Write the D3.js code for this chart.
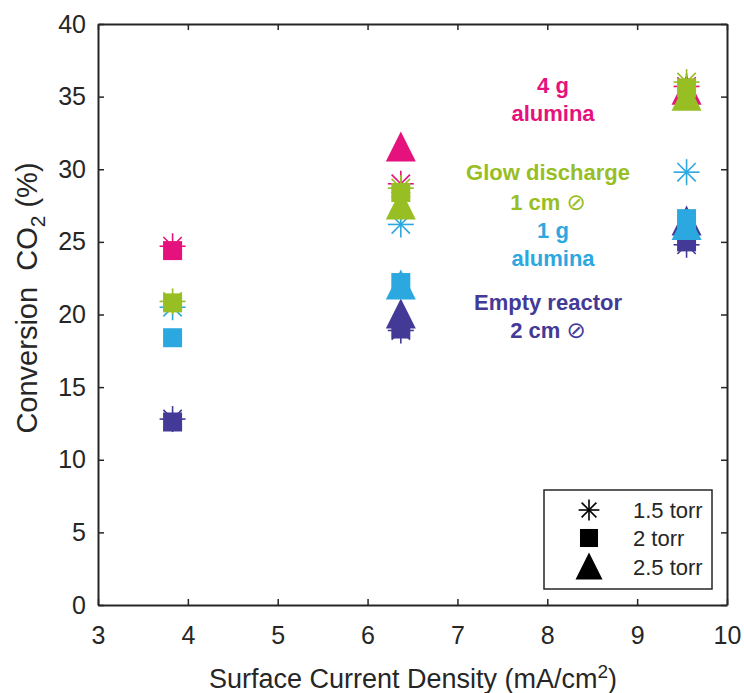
<!DOCTYPE html>
<html><head><meta charset="utf-8">
<script src="https://cdn.jsdelivr.net/npm/d3@7"></script>
<style>body{margin:0;background:#fff} text{font-family:"Liberation Sans",Arial,sans-serif}</style>
</head><body><svg id="c" width="744" height="693"></svg>
<script>
// ---- data ----
const xTicks = [3, 4, 5, 6, 7, 8, 9, 10];
const yTicks = [0, 5, 10, 15, 20, 25, 30, 35, 40];
const currentDensity = [3.83, 6.37, 9.55];
const pressures = ["1.5 torr", "2 torr", "2.5 torr"];
const markerTypes = ["star", "square", "triangle"];
const emptyStar     = [12.8, 18.9, 24.8];
const emptySquare   = [12.6, 19.0, 25.0];
const emptyTriangle = [null, 20.0, 26.4];
const oneGStar      = [20.5, 26.2, 29.8];
const oneGSquare    = [18.4, 22.2, 26.6];
const oneGTriangle  = [null, 22.0, 26.1];
const fourGStar     = [24.7, 29.0, 35.7];
const fourGSquare   = [24.4, null, null];
const fourGTriangle = [null, 31.5, 35.4];
const glowStar      = [20.9, 28.7, 36.0];
const glowSquare    = [20.8, 28.4, 35.6];
const glowTriangle  = [null, 27.5, 35.0];
const annotationLines = [
  ["4 g", "alumina"],
  ["Glow discharge", "1 cm"],
  ["1 g", "alumina"],
  ["Empty reactor", "2 cm"]
];

// ---- styles ----
const colors = {"Empty reactor":"#433A97","1 g alumina":"#2CA8E0","4 g alumina":"#E5127D","Glow discharge":"#97BE23"};
const axisColor = "#262626";
const groups = [
  {name:"Empty reactor", series:[emptyStar, emptySquare, emptyTriangle]},
  {name:"1 g alumina", series:[oneGStar, oneGSquare, oneGTriangle]},
  {name:"4 g alumina", series:[fourGStar, fourGSquare, fourGTriangle]},
  {name:"Glow discharge", series:[glowStar, glowSquare, glowTriangle]}
];

const svg = d3.select("#c");
const L = 98, R = 727, T = 24, B = 605;
const x = d3.scaleLinear().domain([3, 10]).range([L, R]);
const y = d3.scaleLinear().domain([0, 40]).range([B, T]);

// axes
const fs = 25;
const gx = svg.append("g").attr("transform", `translate(0,${B})`)
  .call(d3.axisBottom(x).tickValues(xTicks).tickFormat(d3.format("d")).tickSizeInner(-6).tickSizeOuter(0).tickPadding(26));
const gy = svg.append("g").attr("transform", `translate(${L},0)`)
  .call(d3.axisLeft(y).tickValues(yTicks).tickFormat(d3.format("d")).tickSizeInner(-6).tickSizeOuter(0).tickPadding(12));
const gt = svg.append("g").attr("transform", `translate(0,${T})`)
  .call(d3.axisTop(x).tickValues(xTicks).tickFormat("").tickSizeInner(-6).tickSizeOuter(0));
const gr = svg.append("g").attr("transform", `translate(${R},0)`)
  .call(d3.axisRight(y).tickValues(yTicks).tickFormat("").tickSizeInner(-6).tickSizeOuter(0));
[gx, gy, gt, gr].forEach(g => {
  g.select(".domain").attr("stroke", axisColor).attr("stroke-width", 2);
  g.selectAll(".tick line").attr("stroke", axisColor).attr("stroke-width", 1.5);
  g.selectAll(".tick text").attr("fill", axisColor).style("font-size", fs + "px");
});
gx.selectAll(".tick text").attr("dy", "0.5em");

// markers
function drawMarker(g, type, cx, cy, color, s) {
  if (type === "star") {
    const r = 13 * s;
    for (let k = 0; k < 4; k++) {
      const a = k * Math.PI / 4;
      g.append("line").attr("x1", cx - r * Math.cos(a)).attr("y1", cy - r * Math.sin(a))
        .attr("x2", cx + r * Math.cos(a)).attr("y2", cy + r * Math.sin(a))
        .attr("stroke", color).attr("stroke-width", 1.6);
    }
  } else if (type === "square") {
    const h = 9.5 * s;
    g.append("rect").attr("x", cx - h).attr("y", cy - h).attr("width", 2 * h).attr("height", 2 * h).attr("fill", color);
  } else {
    const w = 15 * s, top = 16 * s, bot = 14 * s;
    g.append("path").attr("d", `M${cx},${cy - top}L${cx + w},${cy + bot}L${cx - w},${cy + bot}Z`).attr("fill", color);
  }
}
const mg = svg.append("g");
groups.forEach(gr0 => {
  gr0.series.forEach((vals, si) => {
    vals.forEach((v, i) => {
      if (v == null) return;
      drawMarker(mg, markerTypes[si], x(currentDensity[i]), y(v), colors[gr0.name], 1);
    });
  });
});

// annotations
const annY = [[85, 113], [172, 202], [230, 258], [302, 330]];
const annX = [553, 548, 553, 548];
const annOrder = ["4 g alumina", "Glow discharge", "1 g alumina", "Empty reactor"];
annotationLines.forEach((lines, i) => {
  const c = colors[annOrder[i]];
  lines.forEach((t, j) => {
    const txt = svg.append("text").attr("x", annX[i]).attr("y", annY[i][j]).attr("text-anchor", "middle")
      .attr("dominant-baseline", "central").attr("fill", c).style("font-size", "22px").style("font-weight", "bold").text(t);
    if (t.endsWith("cm")) {
      txt.append("tspan").text(" ");
      txt.append("tspan").style("font-weight", "normal").style("font-size", "23px").style("font-family", "DejaVu Sans").text("\u2298");
    }
  });
});

// legend
const lg = svg.append("g");
lg.append("rect").attr("x", 544).attr("y", 490).attr("width", 168).attr("height", 99)
  .attr("fill", "#fff").attr("stroke", axisColor).attr("stroke-width", 1.5);
const legY = [510, 538, 567];
pressures.forEach((p, i) => {
  drawMarker(lg, markerTypes[i], 589, legY[i], "#000", i === 0 ? 0.8 : (i === 1 ? 0.95 : 0.9));
  lg.append("text").attr("x", 633).attr("y", legY[i]).attr("dominant-baseline", "central")
    .attr("fill", axisColor).style("font-size", "22px").text(p);
});

// axis labels
const xl = svg.append("text").attr("x", 413).attr("y", 688).attr("text-anchor", "middle")
  .attr("fill", axisColor).style("font-size", "27px").text("Surface Current Density (mA/cm");
xl.append("tspan").attr("dy", -10).style("font-size", "19px").text("2");
xl.append("tspan").attr("dy", 10).text(")");

const yl = svg.append("text").attr("transform", "translate(37,298) rotate(-90)").attr("text-anchor", "middle")
  .attr("fill", axisColor).style("font-size", "29px").style("white-space", "pre").text("Conversion  CO");
yl.append("tspan").attr("dy", 8).style("font-size", "21px").text("2");
yl.append("tspan").attr("dy", -8).text(" (%)");
</script></body></html>
